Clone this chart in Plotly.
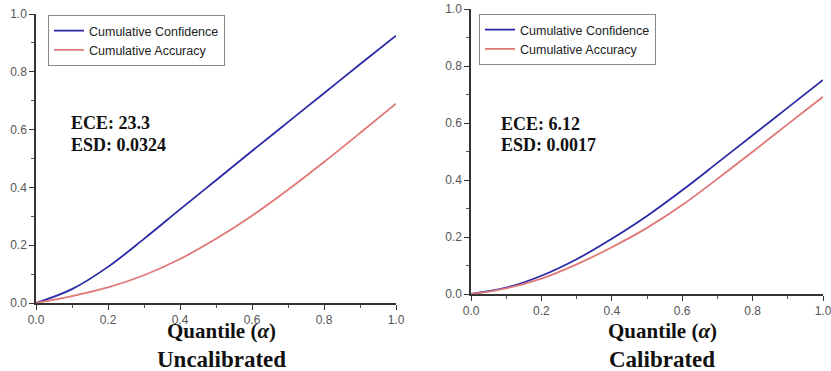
import plotly.graph_objects as go

W, H = 831, 371

quantile = [0.0, 0.1, 0.2, 0.3, 0.4, 0.5, 0.6, 0.7, 0.8, 0.9, 1.0]
uncal_confidence = [0.0, 0.048, 0.125, 0.222, 0.324, 0.425, 0.526, 0.626, 0.726, 0.826, 0.925]
uncal_accuracy = [0.0, 0.024, 0.054, 0.096, 0.152, 0.222, 0.302, 0.392, 0.488, 0.588, 0.69]
cal_confidence = [0.0, 0.022, 0.064, 0.122, 0.194, 0.274, 0.364, 0.46, 0.557, 0.654, 0.751]
cal_accuracy = [0.0, 0.02, 0.054, 0.104, 0.164, 0.232, 0.312, 0.404, 0.499, 0.596, 0.692]

series_names = ["Cumulative Confidence", "Cumulative Accuracy"]
panel_titles = ["Uncalibrated", "Calibrated"]
ece_labels = ["ECE: 23.3", "ECE: 6.12"]
esd_labels = ["ESD: 0.0324", "ESD: 0.0017"]
tick_vals = [0.0, 0.2, 0.4, 0.6, 0.8, 1.0]
tick_text = ["0.0", "0.2", "0.4", "0.6", "0.8", "1.0"]

BLUE = "#2a2aa8"
RED = "#e07878"

def px_x(p):
    return p / W

def px_y(p):
    return (H - p) / H

fig = go.Figure()

fig.add_trace(go.Scatter(x=quantile, y=uncal_confidence, mode="lines", name=series_names[0],
                         line=dict(color=BLUE, width=1.8, shape="spline"),
                         xaxis="x", yaxis="y", legend="legend"))
fig.add_trace(go.Scatter(x=quantile, y=uncal_accuracy, mode="lines", name=series_names[1],
                         line=dict(color=RED, width=1.8, shape="spline"),
                         xaxis="x", yaxis="y", legend="legend"))
fig.add_trace(go.Scatter(x=quantile, y=cal_confidence, mode="lines", name=series_names[0],
                         line=dict(color=BLUE, width=1.8, shape="spline"),
                         xaxis="x2", yaxis="y2", legend="legend2"))
fig.add_trace(go.Scatter(x=quantile, y=cal_accuracy, mode="lines", name=series_names[1],
                         line=dict(color=RED, width=1.8, shape="spline"),
                         xaxis="x2", yaxis="y2", legend="legend2"))

tickfont = dict(family="Liberation Sans, Arial", size=12, color="#555555")

def axis_common():
    return dict(
        range=[0, 1], showgrid=False, zeroline=False, automargin=False,
        showline=True, linecolor="#333333", linewidth=1.5,
        ticks="outside", ticklen=5, tickwidth=1.2, tickcolor="#333333",
        tickvals=tick_vals, ticktext=tick_text, tickfont=tickfont,
        ticklabeloverflow="allow",
        minor=dict(dtick=0.1, tick0=0, ticks="outside", ticklen=3, tickwidth=1, tickcolor="#555555"),
        fixedrange=True,
    )

legend_style = dict(xanchor="left", yanchor="top",
                    bgcolor="white", bordercolor="#888888", borderwidth=1,
                    font=dict(family="Liberation Sans, Arial", size=12.5, color="#222222"),
                    itemwidth=30, tracegroupgap=0)

fig.update_layout(
    width=W, height=H,
    margin=dict(l=0, r=0, t=0, b=0, autoexpand=False),
    paper_bgcolor="white", plot_bgcolor="white",
    xaxis=dict(domain=[px_x(36), px_x(396)], anchor="y", **axis_common()),
    yaxis=dict(domain=[px_y(303), px_y(14)], anchor="x", **axis_common()),
    xaxis2=dict(domain=[px_x(471), px_x(823)], anchor="y2", **axis_common()),
    yaxis2=dict(domain=[px_y(294), px_y(9)], anchor="x2", **axis_common()),
    legend=dict(x=px_x(48), y=px_y(15), **legend_style),
    legend2=dict(x=px_x(479), y=px_y(14), **legend_style),
    showlegend=True,
)

serif = "Liberation Serif, Times New Roman, serif"
annotations = []
for ece, esd, (ax, ay1, ay2) in zip(ece_labels, esd_labels, [(70, 123, 145), (500, 124, 145)]):
    for txt, ay in ((ece, ay1), (esd, ay2)):
        annotations.append(dict(text="<b>%s</b>" % txt, x=px_x(ax), y=px_y(ay), xref="paper", yref="paper",
                                xanchor="left", yanchor="middle", showarrow=False, borderpad=0,
                                font=dict(family=serif, size=18, color="#111111")))

for title, cx in zip(panel_titles, [221, 662]):
    annotations.append(dict(text="<b>Quantile (</b><b><i>α</i></b><b>)</b>", x=px_x(cx), y=px_y(331),
                            xref="paper", yref="paper", xanchor="center", yanchor="middle",
                            showarrow=False, borderpad=0, font=dict(family=serif, size=21, color="#111111")))
    annotations.append(dict(text="<b>%s</b>" % title, x=px_x(cx), y=px_y(359),
                            xref="paper", yref="paper", xanchor="center", yanchor="middle",
                            showarrow=False, borderpad=0, font=dict(family=serif, size=23, color="#111111")))

fig.update_layout(annotations=annotations)

fig.write_html("out.html")
